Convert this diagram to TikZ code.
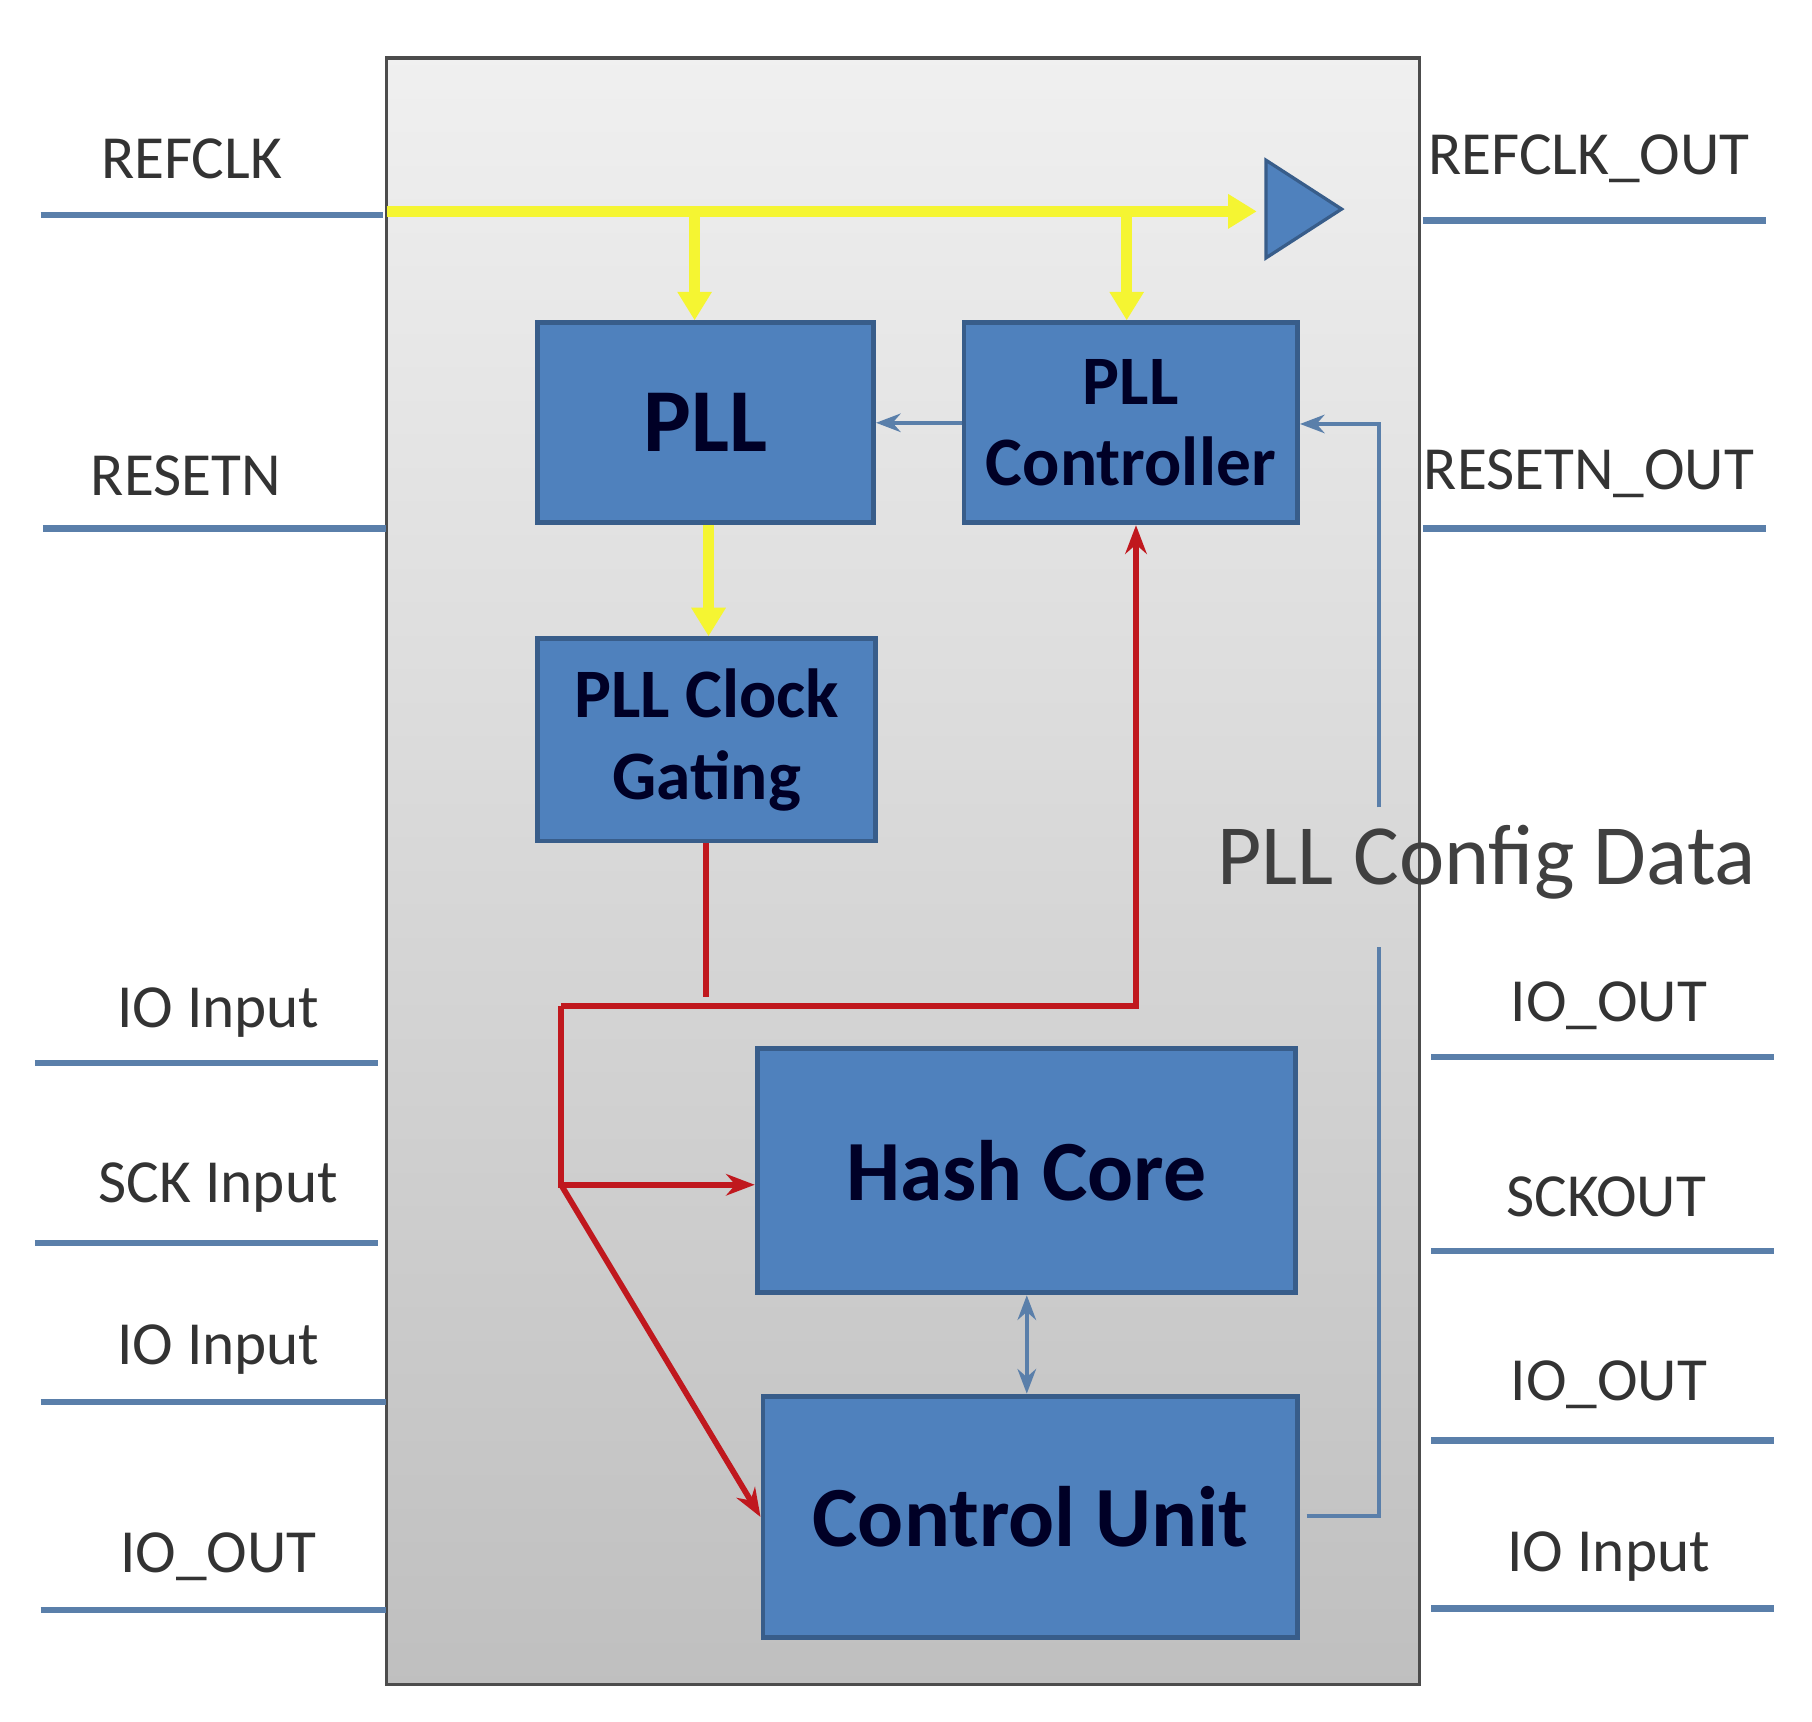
\documentclass[tikz,border=0pt]{standalone}
\usepackage{fontspec}
\setmainfont{Carlito}
\usetikzlibrary{arrows.meta}
\definecolor{boxb}{HTML}{4F81BD}
\definecolor{boxd}{HTML}{385D8A}
\definecolor{pin}{HTML}{5A7FAA}
\definecolor{ylw}{HTML}{F5F532}
\definecolor{rd}{HTML}{C0181E}
\definecolor{txt}{HTML}{333333}
\begin{document}
\begin{tikzpicture}[x=0.01cm,y=-0.01cm,
  blk/.style 2 args={draw=boxd,line width=1.2pt,fill=boxb,minimum width=#1cm,minimum height=#2cm,inner sep=0pt},
  pinl/.style={draw=pin,line width=1.6pt},
  lbl/.style={text=txt,font=\fontsize{15}{15}\selectfont},
  btxt/.style={text=black!85!blue,font=\bfseries\fontsize{17}{20}\selectfont,align=center},
  yl/.style={draw=ylw,line width=2.6pt,-{Triangle[length=7pt,width=8pt]}},
  rl/.style={draw=rd,line width=1.4pt},
  bl/.style={draw=pin,line width=1.1pt}]
\useasboundingbox (0,0) rectangle (1560,1482);
\shade[top color=black!6,bottom color=black!25,draw=black!70,line width=0.8pt] (333,50) rectangle (1222,1450);
% pins left
\foreach \y/\t/\lx/\ly/\a/\b in {185/REFCLK/165/137/35/330, 455/RESETN/160/410/37/332, 915/IO Input/188/872/30/325, 1070/SCK Input/188/1022/30/325, 1207/IO Input/188/1162/35/332, 1386/IO\_OUT/188/1340/35/332}{
  \coordinate (l\y a) at (\a,\y); \coordinate (l\y b) at (\b,\y);
  \draw[pinl] (l\y a) -- (l\y b);
  \node[lbl] (tl\y) at (\lx,\ly) {\t};}
\foreach \y/\t/\lx/\ly/\a/\b in {190/REFCLK\_OUT/1368/137/1225/1520, 455/RESETN\_OUT/1368/408/1225/1520, 910/IO\_OUT/1385/866/1232/1527, 1077/SCKOUT/1383/1030/1232/1527, 1240/IO\_OUT/1385/1192/1232/1527, 1385/IO Input/1385/1340/1232/1527}{
  \coordinate (r\y a) at (\a,\y); \coordinate (r\y b) at (\b,\y);
  \draw[pinl] (r\y a) -- (r\y b);
  \node[lbl] (tr\y) at (\lx,\ly) {\t};}
% blocks
\node[blk={2.89}{1.72},btxt,font=\bfseries\fontsize{22}{24}\selectfont] (pll) at (607.5,364) {PLL};
\node[blk={2.87}{1.72},btxt] (ctl) at (973.5,364) {PLL\\Controller};
\node[blk={2.91}{1.74},btxt] (cg) at (608.5,637) {PLL Clock\\Gating};
\node[blk={4.63}{2.10},btxt,font=\bfseries\fontsize{21}{24}\selectfont] (hc) at (883.5,1008) {Hash Core};
\node[blk={4.60}{2.08},btxt,font=\bfseries\fontsize{21}{24}\selectfont] (cu) at (887,1306) {Control Unit};
% yellow clock
\path[fill=boxb,draw=boxd,line width=0.8pt] (1090,138) -- (1155,180) -- (1090,222) -- cycle;
\coordinate (yin) at (333,182);
\coordinate (yend) at (1082,182);
\coordinate (y1) at (598,182);
\coordinate (y2) at (970,182);
\draw[yl] (yin) -- (yend);
\draw[yl] (y1) -- (pll.north -| y1);
\draw[yl] (y2) -- (ctl.north -| y2);
\draw[yl] (pll.south -| 610,0) -- (cg.north -| 610,0);
% blue
\draw[bl,-{Stealth[length=6pt]}] (ctl.west) -- (pll.east);
\draw[bl,{Stealth[length=6pt]}-{Stealth[length=6pt]}] (hc.south -| 884,0) -- (cu.north -| 884,0);
\coordinate (c1) at (1125,1305); \coordinate (c2) at (1187,1305); \coordinate (c3) at (1187,815); \coordinate (c4) at (1187,695); \coordinate (c5) at (1187,365);
\draw[bl] (c1) -- (c2) -- (c3);
\draw[bl,-{Stealth[length=6pt]}] (c4) -- (c5) -- (ctl.east |- c5);
\node[text=black!75,font=\fontsize{21}{24}\selectfont] (cfg) at (1280,742) {PLL Config Data};
% red
\coordinate (r0) at (608,858); \coordinate (ra) at (483,866); \coordinate (rb) at (978,866); \coordinate (rc) at (483,1020);
\draw[rl] (cg.south -| r0) -- (r0);
\draw[rl,-{Stealth[length=7pt]}] (ra) -- (rb) -- (ctl.south -| rb);
\draw[rl,-{Stealth[length=7pt]}] (ra) -- (rc) -- (hc.west |- rc);
\draw[rl,-{Stealth[length=7pt]}] (rc) -- (cu.west);
\end{tikzpicture}
\end{document}
